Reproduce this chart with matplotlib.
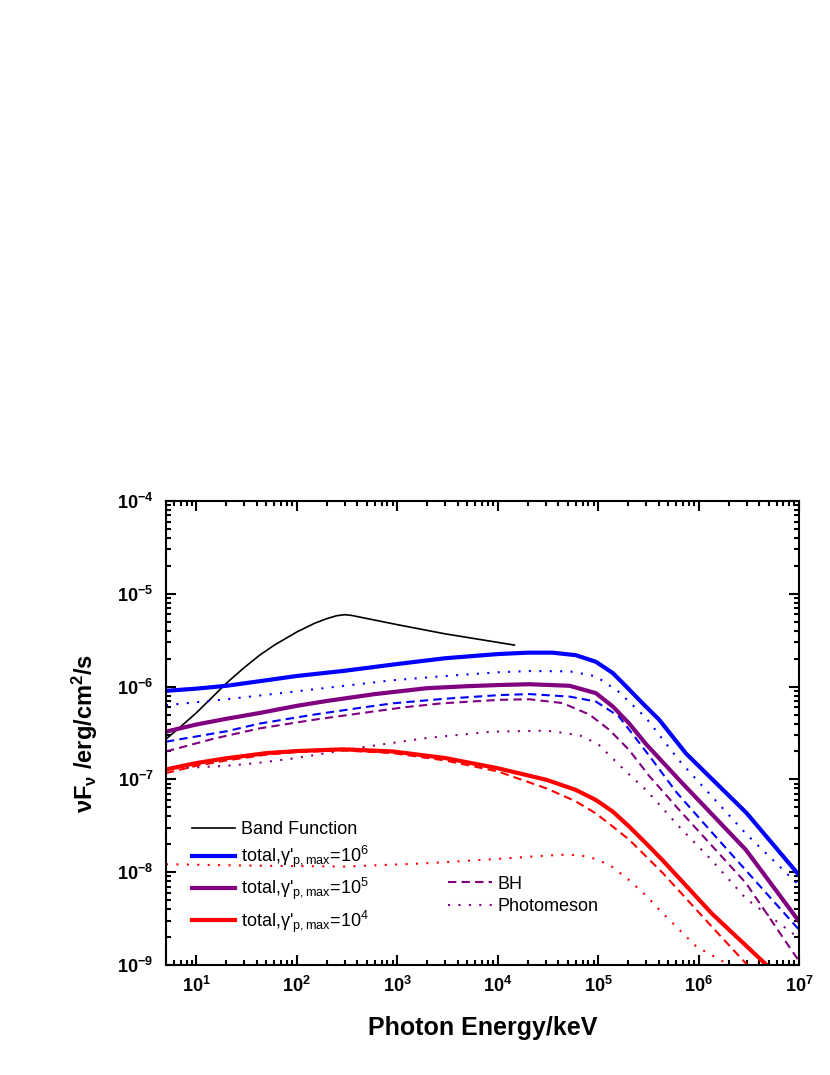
import matplotlib
matplotlib.use('Agg')
import matplotlib.pyplot as plt

plt.rcParams['font.family'] = ['Liberation Sans', 'DejaVu Sans']
plt.rcParams['font.weight'] = 'bold'
plt.rcParams['axes.unicode_minus'] = False
plt.rcParams['mathtext.fontset'] = 'custom'
plt.rcParams['mathtext.rm'] = 'Liberation Sans'
plt.rcParams['mathtext.it'] = 'Liberation Sans:italic'
plt.rcParams['mathtext.bf'] = 'Liberation Sans:bold'

# Band function
band_x = [5, 7, 10, 15, 20, 30, 43, 60, 100, 150, 200, 250, 300, 350, 1000, 3000, 1.47e4]
band_y = [2.72e-7, 3.7e-7, 5.2e-7, 8.0e-7, 1.09e-6, 1.6e-6, 2.19e-6, 2.8e-6, 3.87e-6, 4.8e-6,
          5.4e-6, 5.8e-6, 5.95e-6, 5.85e-6, 4.65e-6, 3.7e-6, 2.8e-6]

# gamma'_p,max = 1e6 (blue)
tot6_x = [5, 10, 20, 50, 100, 300, 1000, 3000, 1e4, 2e4, 3.5e4, 6e4, 9.5e4, 1.4e5, 2e5, 2.75e5,
          4.05e5, 7.5e5, 3e6, 1e7]
tot6_y = [9.0e-7, 9.5e-7, 1.02e-6, 1.17e-6, 1.3e-6, 1.48e-6, 1.75e-6, 2.02e-6, 2.24e-6, 2.32e-6,
          2.32e-6, 2.18e-6, 1.85e-6, 1.4e-6, 9.5e-7, 6.66e-7, 4.4e-7, 1.9e-7, 4.35e-8, 9.3e-9]
bh6_x = [5, 20, 43, 150, 426, 904, 3000, 1.05e4, 2.07e4, 5.2e4, 9.5e4, 1.6e5, 2.3e5, 3.5e5, 6e5,
         1.35e6, 1e7]
bh6_y = [2.55e-7, 3.3e-7, 4.0e-7, 5.0e-7, 5.9e-7, 6.6e-7, 7.4e-7, 8.1e-7, 8.3e-7, 7.8e-7, 6.9e-7,
         4.8e-7, 2.9e-7, 1.6e-7, 7.3e-8, 2.7e-8, 2.4e-9]
pm6_x = [5, 20, 92, 300, 904, 3000, 1.05e4, 2.07e4, 5.2e4, 9.5e4, 1.6e5, 3.0e5, 6.4e5, 2.96e6, 1e7]
pm6_y = [6.3e-7, 7.3e-7, 8.8e-7, 1.02e-6, 1.17e-6, 1.3e-6, 1.43e-6, 1.47e-6, 1.46e-6, 1.29e-6,
         8.8e-7, 4.6e-7, 1.6e-7, 2.6e-8, 7.2e-9]

# gamma'_p,max = 1e5 (purple)
tot5_x = [5, 10, 20, 43, 100, 200, 600, 1970, 5000, 1.05e4, 2.07e4, 5.2e4, 9.5e4, 1.4e5, 2.04e5,
          3e5, 6.4e5, 2.96e6, 1e7]
tot5_y = [3.27e-7, 3.9e-7, 4.5e-7, 5.2e-7, 6.2e-7, 7.0e-7, 8.3e-7, 9.6e-7, 1.01e-6, 1.04e-6,
          1.06e-6, 1.02e-6, 8.5e-7, 6.1e-7, 4.0e-7, 2.4e-7, 9.9e-8, 1.74e-8, 2.95e-9]
bh5_x = [5, 15, 43, 150, 426, 1200, 2800, 1.05e4, 2.07e4, 4.4e4, 8.2e4, 1.3e5, 2.04e5, 3.2e5,
         6.4e5, 2.96e6, 1e7]
bh5_y = [2.0e-7, 2.75e-7, 3.55e-7, 4.4e-7, 5.15e-7, 6.0e-7, 6.6e-7, 7.2e-7, 7.3e-7, 6.65e-7,
         5.0e-7, 3.4e-7, 2.07e-7, 1.1e-7, 4.7e-8, 7.65e-9, 1.1e-9]
pm5_x = [5, 20, 40, 100, 426, 2000, 8900, 3.06e4, 6.5e4, 1e5, 1.38e5, 2e5, 3e5, 6.4e5, 1.35e6,
         2.96e6, 1e7]
pm5_y = [1.3e-7, 1.4e-7, 1.5e-7, 1.7e-7, 2.2e-7, 2.8e-7, 3.27e-7, 3.35e-7, 3.0e-7, 2.4e-7,
         1.7e-7, 1.15e-7, 7.7e-8, 3.1e-8, 1.35e-8, 5.2e-9, 1.95e-9]

# gamma'_p,max = 1e4 (red)
tot4_x = [5, 10, 20, 50, 100, 289, 904, 3000, 1e4, 3.06e4, 6e4, 9.5e4, 1.4e5, 2.04e5, 3e5, 4.4e5,
          1.35e6, 5.0e6, 6e6]
tot4_y = [1.28e-7, 1.5e-7, 1.69e-7, 1.92e-7, 2.02e-7, 2.11e-7, 2.0e-7, 1.7e-7, 1.32e-7, 9.9e-8,
          7.7e-8, 6.0e-8, 4.5e-8, 3.1e-8, 2.05e-8, 1.34e-8, 3.6e-9, 9.5e-10, 7.8e-10]
bh4_x = [5, 10, 20, 50, 100, 289, 904, 3000, 1e4, 3.06e4, 6e4, 9.5e4, 1.4e5, 2.04e5, 4.4e5, 1.35e6,
         3.2e6, 4e6]
bh4_y = [1.17e-7, 1.4e-7, 1.6e-7, 1.85e-7, 1.97e-7, 2.05e-7, 1.92e-7, 1.6e-7, 1.22e-7, 8.0e-8,
         5.8e-8, 4.3e-8, 3.1e-8, 2.24e-8, 9.8e-9, 2.6e-9, 9.5e-10, 7.5e-10]
pm4_x = [5, 30, 300, 2000, 8900, 2.8e4, 5e4, 8e4, 1.3e5, 2.04e5, 3e5, 4.4e5, 9.5e5, 2.2e6, 3e6]
pm4_y = [1.22e-8, 1.18e-8, 1.15e-8, 1.25e-8, 1.38e-8, 1.5e-8, 1.55e-8, 1.48e-8, 1.2e-8, 8.2e-9,
         5.6e-9, 3.6e-9, 1.58e-9, 9.5e-10, 7e-10]

x_ticks = [1e1, 1e2, 1e3, 1e4, 1e5, 1e6, 1e7]
y_ticks = [1e-9, 1e-8, 1e-7, 1e-6, 1e-5, 1e-4]

blue = '#0000ff'
purple = '#800080'
red = '#ff0000'
dash = (0, (4, 2.5))
dot = (0, (1, 4))

fig = plt.figure(figsize=(8.3, 10.75), dpi=100)
ax = fig.add_axes([0.2, 0.1023, 0.7627, 0.4317])

l_band, = ax.plot(band_x, band_y, color='black', lw=1.2)
l6, = ax.plot(tot6_x, tot6_y, color=blue, lw=3)
ax.plot(bh6_x, bh6_y, color=blue, lw=1.5, ls=dash)
ax.plot(pm6_x, pm6_y, color=blue, lw=1.5, ls=dot)
l5, = ax.plot(tot5_x, tot5_y, color=purple, lw=3)
l_bh, = ax.plot(bh5_x, bh5_y, color=purple, lw=1.5, ls=dash)
l_pm, = ax.plot(pm5_x, pm5_y, color=purple, lw=1.5, ls=dot)
l4, = ax.plot(tot4_x, tot4_y, color=red, lw=3)
ax.plot(bh4_x, bh4_y, color=red, lw=1.5, ls=dash)
ax.plot(pm4_x, pm4_y, color=red, lw=1.5, ls=dot)

ax.set_xscale('log')
ax.set_yscale('log')
ax.set_xticks(x_ticks)
ax.set_yticks(y_ticks)
ax.set_xlim(5, 1e7)
ax.set_ylim(1e-9, 1e-4)

for s in ax.spines.values():
    s.set_linewidth(1.5)
ax.tick_params(which='both', direction='in', top=True, right=True, width=1.5)
ax.tick_params(which='major', length=7, labelsize=13)
ax.tick_params(which='minor', length=3.5)
ax.tick_params(axis='x', pad=8)
ax.tick_params(axis='y', pad=9)

ax.set_xlabel('Photon Energy/keV', fontsize=18, fontweight='bold', labelpad=14)
ax.set_ylabel(r'$\mathregular{\nu}$F$_\mathregular{\nu}$ /erg/cm$^\mathregular{2}$/s', fontsize=17,
              fontweight='bold', labelpad=12)

leg_prop = {'family': 'Liberation Sans', 'size': 13, 'weight': 'normal'}
leg_labels = ['Band Function',
              "total,γ'$_\\mathregular{p,max}$=10$^\\mathregular{6}$",
              "total,γ'$_\\mathregular{p,max}$=10$^\\mathregular{5}$",
              "total,γ'$_\\mathregular{p,max}$=10$^\\mathregular{4}$"]
leg1 = fig.legend([l_band, l6, l5, l4], leg_labels, loc='upper left', bbox_to_anchor=(0.231, 0.2363),
                  frameon=False, prop=leg_prop, handlelength=2.4,
                  handletextpad=0.35, borderpad=0, borderaxespad=0, labelspacing=0.33)
leg2 = fig.legend([l_bh, l_pm], ['BH', 'Photomeson'], loc='upper left', bbox_to_anchor=(0.54, 0.1853),
                  frameon=False, prop=leg_prop, handlelength=2.4,
                  handletextpad=0.35, borderpad=0, borderaxespad=0, labelspacing=0.3)

fig.savefig('out.png', dpi=100)
